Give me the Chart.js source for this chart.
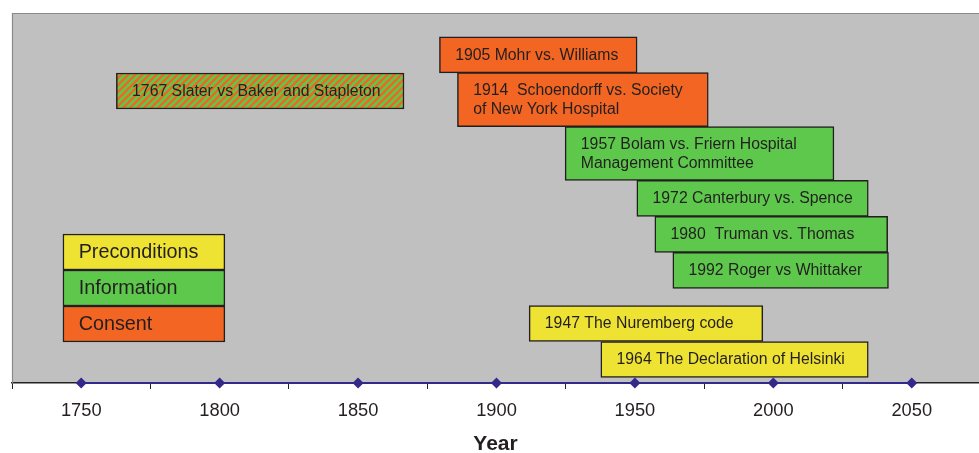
<!DOCTYPE html>
<html>
<head>
<meta charset="utf-8">
<script src="https://cdn.jsdelivr.net/npm/chart.js@4.4.0/dist/chart.umd.min.js"></script>
<style>
  html, body { margin: 0; padding: 0; background: #ffffff; overflow: hidden; }
  canvas { display: block; }
</style>
</head>
<body>
<canvas id="c" width="979" height="453" style="width:979px;height:453px"></canvas>
<script>
// ---- Data ----
// Legal cases: label (lines split by \n), start/end years of the box, vertical lane position, category
const caseLabels = [
  '1905 Mohr vs. Williams',
  '1767 Slater vs Baker and Stapleton',
  '1914  Schoendorff vs. Society\nof New York Hospital',
  '1957 Bolam vs. Friern Hospital\nManagement Committee',
  '1972 Canterbury vs. Spence',
  '1980  Truman vs. Thomas',
  '1992 Roger vs Whittaker',
  '1947 The Nuremberg code',
  '1964 The Declaration of Helsinki'
];
const caseStart = [1879.4, 1762.7, 1885.9, 1924.8, 1950.7, 1957.2, 1963.7, 1911.8, 1937.7];
const caseEnd   = [1950.8, 1866.6, 1976.5, 2021.9, 2034.3, 2041.3, 2041.6, 1996.2, 2034.3];
const caseLane  = [328.2, 292.0, 283.3, 229.5, 184.7, 148.7, 112.7, 59.5, 23.5];
const caseCategory = ['Consent', 'Mixed', 'Consent', 'Information', 'Information', 'Information', 'Information', 'Preconditions', 'Preconditions'];

// Key boxes
const keyLabels = ['Preconditions', 'Information', 'Consent'];
const keyStart = [1743.4, 1743.4, 1743.4];
const keyEnd   = [1801.9, 1801.9, 1801.9];
const keyLane  = [131, 95, 59];

// Axis markers
const axisYears = [1750, 1800, 1850, 1900, 1950, 2000, 2050];
const axisValue = [0, 0, 0, 0, 0, 0, 0];

const xMin = 1725, xMax = 2074.3, xStep = 25, labelStep = 50;
const yMin = 0, yMax = 370;

// ---- Styles ----
const COLORS = {
  Consent: '#F26522',
  Information: '#5DC84B',
  Preconditions: '#EEE332'
};
const TEXT = '#231F20';
const FONT = '"Liberation Sans", Arial, Helvetica, sans-serif';

function makeHatch() {
  const s = 7;
  const c = document.createElement('canvas');
  c.width = s; c.height = s;
  const g = c.getContext('2d');
  g.fillStyle = COLORS.Information;
  g.fillRect(0, 0, s, s);
  g.strokeStyle = COLORS.Consent;
  g.lineWidth = 2.3;
  g.beginPath();
  g.moveTo(-1, s + 1); g.lineTo(s + 1, -1);
  g.moveTo(-1, 1); g.lineTo(1, -1);
  g.moveTo(s - 1, s + 1); g.lineTo(s + 1, s - 1);
  g.stroke();
  return document.createElement('canvas').getContext('2d').createPattern(c, 'repeat');
}
const hatch = makeHatch();
function fillFor(cat) { return cat === 'Mixed' ? hatch : COLORS[cat]; }

// split cases into single- and two-line boxes
const singleIdx = [], doubleIdx = [];
caseLabels.forEach((l, i) => (l.includes('\n') ? doubleIdx : singleIdx).push(i));

function caseDataset(idx, thickness) {
  return {
    type: 'bar',
    indexAxis: 'y',
    data: idx.map(i => ({ x: [caseStart[i], caseEnd[i]], y: caseLane[i], label: caseLabels[i] })),
    backgroundColor: idx.map(i => fillFor(caseCategory[i])),
    borderColor: TEXT,
    borderWidth: 1.5,
    borderSkipped: false,
    barThickness: thickness,
    grouped: false,
    boxFont: '15.8px ' + FONT
  };
}

const keyDataset = {
  type: 'bar',
  indexAxis: 'y',
  data: keyLabels.map((l, i) => ({ x: [keyStart[i], keyEnd[i]], y: keyLane[i], label: l })),
  backgroundColor: keyLabels.map(l => COLORS[l]),
  borderColor: TEXT,
  borderWidth: 1.5,
  borderSkipped: false,
  barThickness: 36,
  grouped: false,
  boxFont: '19.8px ' + FONT
};

const axisDataset = {
  type: 'line',
  indexAxis: 'x',
  data: axisYears.map((yr, i) => ({ x: yr, y: axisValue[i] })),
  borderColor: '#33298A',
  backgroundColor: '#33298A',
  borderWidth: 2,
  pointStyle: 'rectRot',
  pointRadius: 5.5,
  pointBorderWidth: 0,
  clip: false,
  order: -1
};

const bgPlugin = {
  id: 'plotBg',
  beforeDraw(chart) {
    const { ctx, chartArea: a } = chart;
    ctx.save();
    ctx.fillStyle = '#C0C0C0';
    ctx.fillRect(a.left, a.top, a.right - a.left, a.bottom - a.top);
    ctx.restore();
  },
  beforeDatasetsDraw(chart) {
    const { ctx, chartArea: a } = chart;
    ctx.save();
    ctx.strokeStyle = '#8A8A8A';
    ctx.lineWidth = 1.2;
    ctx.beginPath();
    ctx.moveTo(a.left + 0.5, a.bottom);
    ctx.lineTo(a.left + 0.5, a.top + 0.5);
    ctx.lineTo(a.right, a.top + 0.5);
    ctx.stroke();
    ctx.restore();
  }
};

const textPlugin = {
  id: 'boxText',
  afterDatasetsDraw(chart) {
    const ctx = chart.ctx;
    chart.data.datasets.forEach((ds, di) => {
      if (ds.type !== 'bar') return;
      const meta = chart.getDatasetMeta(di);
      meta.data.forEach((el, i) => {
        const lines = ds.data[i].label.split('\n');
        const left = Math.min(el.x, el.base);
        const lh = 18.4;
        ctx.save();
        ctx.fillStyle = TEXT;
        ctx.font = ds.boxFont;
        ctx.textAlign = 'left';
        ctx.textBaseline = 'middle';
        lines.forEach((t, k) => {
          const y = el.y + (k - (lines.length - 1) / 2) * lh;
          ctx.fillText(t, left + 15.7, y + 0.5);
        });
        ctx.restore();
      });
    });
  }
};

new Chart(document.getElementById('c'), {
  type: 'bar',
  data: {
    datasets: [keyDataset, caseDataset(singleIdx, 36), caseDataset(doubleIdx, 54), axisDataset]
  },
  options: {
    indexAxis: 'y',
    responsive: false,
    maintainAspectRatio: false,
    devicePixelRatio: 1,
    animation: false,
    events: [],
    layout: { autoPadding: false, padding: { left: 12, top: 13, right: 0, bottom: 0 } },
    plugins: { legend: { display: false }, tooltip: { enabled: false } },
    scales: {
      x: {
        type: 'linear',
        position: 'bottom',
        offset: false,
        min: xMin,
        max: xMax,
        afterFit(scale) { scale.height = 70; scale.paddingRight = 0; scale.paddingLeft = 0; },
        afterBuildTicks(scale) {
          const t = [];
          for (let v = xMin; v <= xMax; v += xStep) t.push({ value: v });
          scale.ticks = t;
        },
        ticks: {
          autoSkip: false,
          maxRotation: 0,
          padding: 11,
          color: TEXT,
          font: { family: FONT, size: 18.3 },
          callback: v => (v % labelStep === 0 ? String(v) : '')
        },
        grid: {
          offset: false,
          drawOnChartArea: false,
          drawTicks: true,
          tickLength: 6,
          tickWidth: 1,
          tickColor: ctx => (ctx.tick && ctx.tick.value % labelStep === 0 ? 'rgba(0,0,0,0)' : '#222222')
        },
        border: { display: true, color: '#222222', width: 1.5 },
        title: {
          display: true,
          text: 'Year',
          color: TEXT,
          font: { family: FONT, size: 21, weight: 'bold', lineHeight: 0.8 },
          padding: { top: 0, bottom: 0 }
        }
      },
      y: {
        type: 'linear',
        offset: false,
        grid: { offset: false },
        min: yMin,
        max: yMax,
        display: false
      }
    }
  },
  plugins: [bgPlugin, textPlugin]
});
</script>
</body>
</html>
